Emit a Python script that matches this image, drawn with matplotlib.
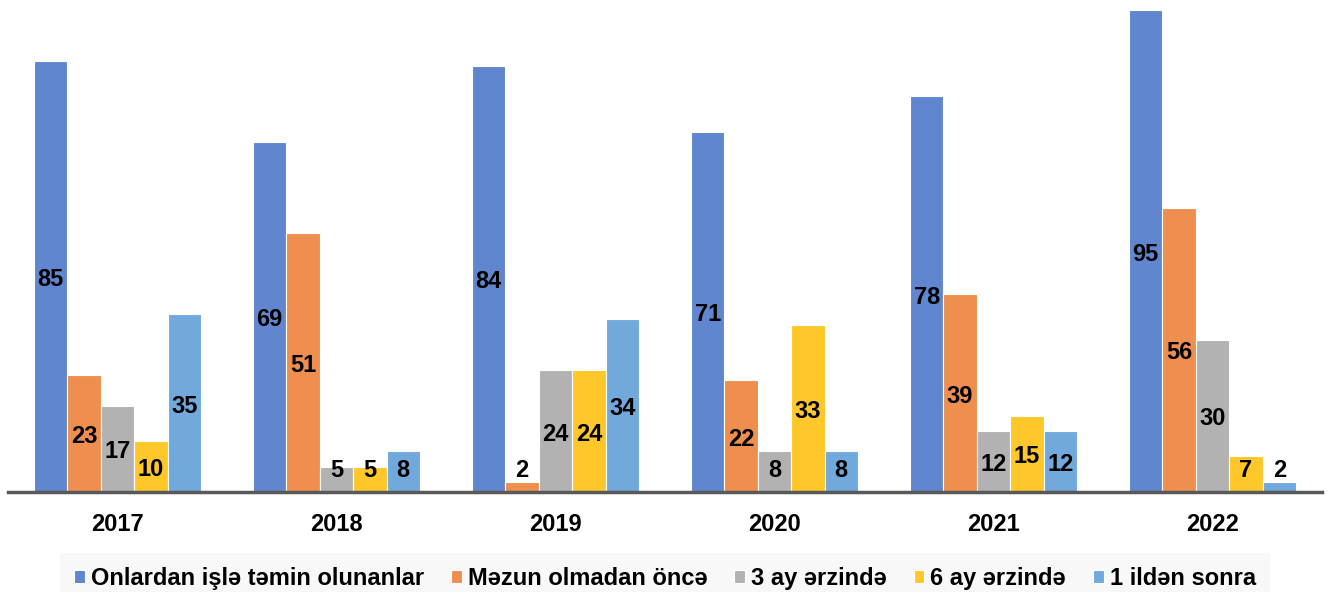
import numpy as np
import matplotlib
matplotlib.use('Agg')
import matplotlib.pyplot as plt

years = ['2017', '2018', '2019', '2020', '2021', '2022']
series_names = ['Onlardan işlə təmin olunanlar', 'Məzun olmadan öncə',
                '3 ay ərzində', '6 ay ərzində', '1 ildən sonra']
employed = [85, 69, 84, 71, 78, 95]
before_grad = [23, 51, 2, 22, 39, 56]
within_3m = [17, 5, 24, 8, 12, 30]
within_6m = [10, 5, 24, 33, 15, 7]
after_1y = [35, 8, 34, 8, 12, 2]
colors = ['#5F86CE', '#EE8F50', '#B2B2B2', '#FFC729', '#72A9DC']

plt.rcParams['font.family'] = ['Liberation Sans', 'DejaVu Sans']
plt.rcParams['font.weight'] = 'bold'

fig = plt.figure(figsize=(13.3, 5.92), dpi=100)
ax = fig.add_axes([8/1330, 100/592, 1314/1330, 484/592])

x = np.arange(len(years))
w = 0.1525
data = [employed, before_grad, within_3m, within_6m, after_1y]
for i, (vals, c, name) in enumerate(zip(data, colors, series_names)):
    pos = x + (i - 2) * w
    ax.bar(pos, vals, width=w, color=c, edgecolor='white', linewidth=0.8, label=name, zorder=2)
    for p, v in zip(pos, vals):
        ax.text(p, max(v / 2 - 0.6, 4.3), str(v), ha='center', va='center',
                fontsize=17, fontweight='bold', color='black', zorder=3)

ax.set_xlim(-0.5, 5.5)
ax.set_ylim(0, 484 / 5.074)
ax.set_xticks(x)
ax.set_xticklabels(years, fontsize=17, fontweight='bold')
ax.tick_params(axis='x', length=0, pad=15)
ax.set_yticks([])
for s in ['top', 'right', 'left']:
    ax.spines[s].set_visible(False)
ax.spines['bottom'].set_color('#595959')
ax.spines['bottom'].set_linewidth(2.5)
ax.spines['bottom'].set_zorder(4)

leg = fig.legend(loc='lower center', bbox_to_anchor=(0.5, -0.02), ncol=5, frameon=True,
                 fontsize=17, handlelength=0.45, handleheight=0.45, handletextpad=0.25,
                 columnspacing=1.15, borderpad=0.6, borderaxespad=0.0, fancybox=False)
leg.get_frame().set_facecolor('#F7F7F7')
leg.get_frame().set_edgecolor('none')
for t in leg.get_texts():
    t.set_fontweight('bold')

fig.savefig('out.png', dpi=100)
